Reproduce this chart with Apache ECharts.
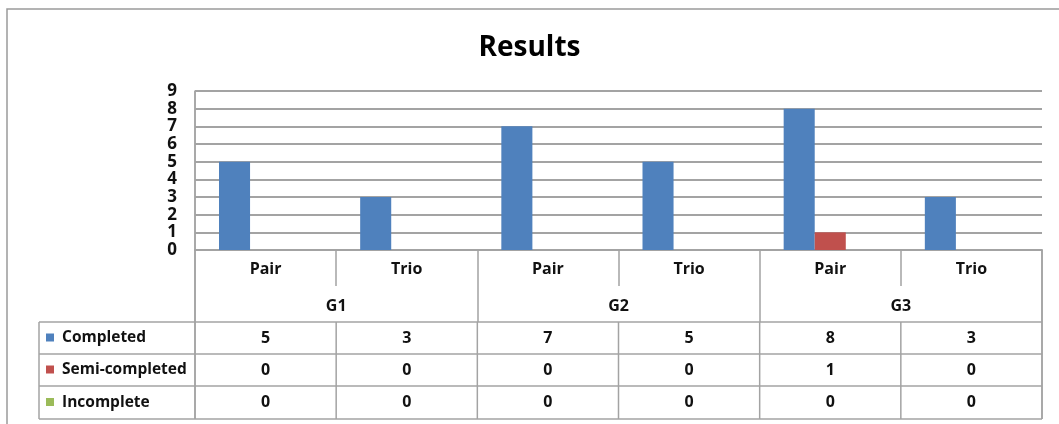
<!DOCTYPE html>
<html>
<head>
<meta charset="utf-8">
<script src="https://cdn.jsdelivr.net/npm/echarts@6/dist/echarts.min.js"></script>
<style>
html,body{margin:0;padding:0;background:#fff;}
#c{width:1059px;height:424px;}
</style>
</head>
<body>
<div id="c"></div>
<script>
const categories = ['Pair', 'Trio', 'Pair', 'Trio', 'Pair', 'Trio'];
const groups = ['G1', 'G2', 'G3'];
const seriesNames = ['Completed', 'Semi-completed', 'Incomplete'];
const completed = [5, 3, 7, 5, 8, 3];
const semiCompleted = [0, 0, 0, 0, 1, 0];
const incomplete = [0, 0, 0, 0, 0, 0];
const seriesValues = [completed, semiCompleted, incomplete];
const colors = ['#4f81bd', '#c0504d', '#9bbb59'];

const FONT = '"Open Sans", "DejaVu Sans", sans-serif';
const GRID_L = 195, GRID_R = 1042, GRID_T = 91, GRID_B = 250;
const W = 1059, H = 424;
const LINE = '#a3a3a3';
const TABLE_L = 39;
const ROWS_Y = [322, 354, 386, 419];

const chart = echarts.init(document.getElementById('c'), null, {renderer: 'canvas'});

function buildGraphics() {
  const g = [];
  const line = (x1, y1, x2, y2, w) => g.push({
    type: 'line', shape: {x1, y1, x2, y2}, silent: true,
    style: {stroke: LINE, lineWidth: w || 1.5}
  });
  // outer chart border (left + top visible)
  g.push({type: 'rect', shape: {x: 7, y: 9, width: 1200, height: 600}, silent: true,
    style: {fill: 'none', stroke: '#9a9a9a', lineWidth: 1.5}});
  // left border of plot extends down through axis label area
  line(GRID_L, GRID_T, GRID_L, ROWS_Y[3], 1.5);
  // right border of label region and table
  line(GRID_R, GRID_B, GRID_R, ROWS_Y[3], 1.5);
  // table horizontal lines
  ROWS_Y.forEach(y => line(TABLE_L, y, GRID_R, y, 1.5));
  line(TABLE_L, ROWS_Y[0], TABLE_L, ROWS_Y[3], 1.5);
  // column boundaries in table
  for (let i = 0; i <= categories.length; i++) {
    const x = i === 0 ? GRID_L : (i === categories.length ? GRID_R :
      (chart.convertToPixel({xAxisIndex: 0}, i - 1) + chart.convertToPixel({xAxisIndex: 0}, i)) / 2);
    line(x, ROWS_Y[0], x, ROWS_Y[3], 1.5);
  }
  // legend-keyed row headers and values
  seriesNames.forEach((name, r) => {
    const cy = (ROWS_Y[r] + ROWS_Y[r + 1]) / 2;
    g.push({type: 'rect', shape: {x: 46, y: cy - 4.5, width: 8, height: 8}, silent: true,
      style: {fill: colors[r]}});
    g.push({type: 'text', x: 62, y: cy, silent: true,
      style: {text: name, font: 'bold 15.5px ' + FONT, fill: '#111', verticalAlign: 'middle', align: 'left'}});
    seriesValues[r].forEach((v, i) => {
      const cx = chart.convertToPixel({xAxisIndex: 0}, i);
      g.push({type: 'text', x: cx, y: cy, silent: true,
        style: {text: String(v), font: 'bold 16px ' + FONT, fill: '#111', verticalAlign: 'middle', align: 'center'}});
    });
  });
  return g;
}

const option = {
  animation: false,
  backgroundColor: '#fff',
  title: {
    text: 'Results', left: 'center', top: 29,
    textStyle: {fontFamily: FONT, fontWeight: 'bold', fontSize: 28, color: '#000'}
  },
  grid: {left: GRID_L, right: W - GRID_R, top: GRID_T, bottom: H - GRID_B, containLabel: false},
  xAxis: [
    {
      type: 'category', data: categories, position: 'bottom',
      axisLine: {show: true, lineStyle: {color: LINE, width: 2}},
      axisTick: {show: true, length: 36, interval: 0, lineStyle: {color: LINE, width: 1.5}},
      axisLabel: {interval: 0, margin: 11, fontFamily: FONT, fontWeight: 'bold', fontSize: 16, color: '#111'},
      splitLine: {show: false}
    },
    {
      type: 'category', data: groups, position: 'bottom', offset: 0,
      axisLine: {show: false},
      axisTick: {show: true, length: 72, interval: 0, lineStyle: {color: LINE, width: 1.5}},
      axisLabel: {interval: 0, margin: 48, fontFamily: FONT, fontWeight: 'bold', fontSize: 16, color: '#111'},
      splitLine: {show: false}
    }
  ],
  yAxis: {
    type: 'value', min: 0, max: 9, interval: 1,
    axisLine: {show: true, lineStyle: {color: LINE, width: 1.5}},
    axisTick: {show: false},
    axisLabel: {margin: 18, fontFamily: FONT, fontWeight: 'bold', fontSize: 17, color: '#111'},
    splitLine: {show: true, lineStyle: {color: LINE, width: 2}}
  },
  series: seriesNames.map((name, i) => ({
    name, type: 'bar', xAxisIndex: 0, data: seriesValues[i],
    itemStyle: {color: colors[i]},
    barGap: '0%', barCategoryGap: '34%'
  }))
};

chart.setOption(option);
chart.setOption({graphic: buildGraphics()});
</script>
</body>
</html>
